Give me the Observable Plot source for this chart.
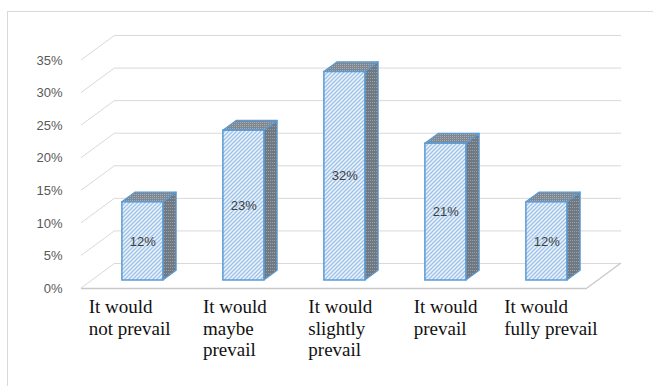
<!DOCTYPE html>
<html>
<head>
<meta charset="utf-8">
<script src="https://cdn.jsdelivr.net/npm/d3@7"></script>
<script src="https://cdn.jsdelivr.net/npm/@observablehq/plot@0.6"></script>
<style>
  html, body { margin: 0; padding: 0; background: #fff; }
  #wrap { position: relative; width: 653px; height: 386px; overflow: hidden; }
  #border { position: absolute; left: 7px; top: 11px; width: 700px; height: 420px; border: 1px solid #d9d9d9; box-sizing: border-box; }
  #chart { position: absolute; left: 0; top: 0; }
</style>
</head>
<body>
<div id="wrap"><div id="border"></div><div id="chart"></div></div>
<script>
const categories = ["It would\nnot prevail", "It would\nmaybe\nprevail", "It would\nslightly\nprevail", "It would\nprevail", "It would\nfully prevail"];
const values = [12, 23, 32, 21, 12];
const valueLabels = ["12%", "23%", "32%", "21%", "12%"];
const yTicks = [0, 5, 10, 15, 20, 25, 30, 35];

const table = categories.map((c, i) => ({category: c, value: values[i], label: valueLabels[i]}));

// perspective depth (styling)
const DX = 34, DY = -25, F1 = 0.32, F2 = 0.71;

function bw(scale) {
  return typeof scale.bandwidth === "function" ? scale.bandwidth() : scale.bandwidth;
}

function diagonals(index, scales, values, dims) {
  const g = d3.create("svg:g").attr("stroke", "#d9d9d9").attr("stroke-width", 1).attr("fill", "none");
  const x0 = dims.marginLeft;
  for (const v of yTicks) {
    const y = scales.y(v);
    g.append("line").attr("x1", x0).attr("y1", y).attr("x2", x0 + DX).attr("y2", y + DY);
  }
  return g.node();
}

function floorRight(index, scales, values, dims) {
  const g = d3.create("svg:g").attr("stroke", "#c9c9c9").attr("stroke-width", 1.3).attr("fill", "none");
  const x0 = dims.width - dims.marginRight;
  const y = scales.y(0);
  g.append("line").attr("x1", x0).attr("y1", y).attr("x2", x0 + DX).attr("y2", y + DY);
  return g.node();
}

function bars3d(index, scales, vals, dims) {
  const g = d3.create("svg:g");
  const defs = g.append("defs");
  const pf = defs.append("pattern").attr("id", "frontHatch").attr("patternUnits", "userSpaceOnUse").attr("width", 4).attr("height", 4);
  pf.append("rect").attr("width", 4).attr("height", 4).attr("fill", "#eef4fb");
  pf.append("path").attr("d", "M-1,1L1,-1M0,4L4,0M3,5L5,3").attr("stroke", "#9cc2e8").attr("stroke-width", 1.3);
  const pt = defs.append("pattern").attr("id", "topTex").attr("patternUnits", "userSpaceOnUse").attr("width", 2).attr("height", 2);
  pt.append("rect").attr("width", 2).attr("height", 2).attr("fill", "#7f8791");
  pt.append("rect").attr("width", 1).attr("height", 1).attr("fill", "#a6adb5");
  const ps = defs.append("pattern").attr("id", "sideTex").attr("patternUnits", "userSpaceOnUse").attr("width", 2).attr("height", 3);
  ps.append("rect").attr("width", 2).attr("height", 3).attr("fill", "#707882");
  ps.append("rect").attr("width", 1).attr("height", 1).attr("fill", "#99a0a8");
  const w = bw(scales.x);
  const ox = DX * (F2 - F1), oy = DY * (F2 - F1);
  for (const i of index) {
    const d = table[i];
    const x0 = scales.x(d.category) + DX * F1, x1 = x0 + w;
    const yb = scales.y(0) + DY * F1, yt = scales.y(d.value) + DY * F1;
    g.append("path")
      .attr("d", `M${x1},${yb}L${x1 + ox},${yb + oy}L${x1 + ox},${yt + oy}L${x1},${yt}Z`)
      .attr("fill", "url(#sideTex)").attr("stroke", "#5b9bd5").attr("stroke-width", 1.2).attr("stroke-linejoin", "round");
    g.append("path")
      .attr("d", `M${x0},${yt}L${x0 + ox},${yt + oy}L${x1 + ox},${yt + oy}L${x1},${yt}Z`)
      .attr("fill", "url(#topTex)").attr("stroke", "#5b9bd5").attr("stroke-width", 1.2).attr("stroke-linejoin", "round");
    g.append("rect")
      .attr("x", x0).attr("y", yt).attr("width", w).attr("height", yb - yt)
      .attr("fill", "url(#frontHatch)").attr("stroke", "#5b9bd5").attr("stroke-width", 1.5);
  }
  return g.node();
}

function catLabels(index, scales, vals, dims) {
  const w = bw(scales.x);
  const ctx = document.createElement("canvas").getContext("2d");
  ctx.font = "19px 'Liberation Serif'";
  const left = dims.marginLeft, right = dims.width - dims.marginRight;
  const mid = (left + right) / 2;
  const y0 = scales.y(0);
  const g = d3.create("svg:g")
    .attr("font-family", "'Liberation Serif', 'Times New Roman', serif")
    .attr("font-size", 19).attr("fill", "#111").attr("text-anchor", "start");
  for (const i of index) {
    const lines = table[i].category.split("\n");
    const c = scales.x(table[i].category) + w / 2;
    const cx = mid + 6.8 + (c - mid) * 1.043;
    const lw = d3.max(lines, l => ctx.measureText(l).width);
    const t = g.append("text").attr("text-anchor", "start");
    lines.forEach((l, k) => {
      t.append("tspan").attr("x", cx - lw / 2).attr("y", y0 + 25 + k * 21.5).text(l);
    });
  }
  return g.node();
}

const chart = Plot.plot({
  width: 653,
  height: 386,
  marginLeft: 81,
  marginRight: 66,
  marginTop: 60,
  marginBottom: 98,
  style: {background: "transparent", overflow: "visible"},
  x: {domain: categories, paddingInner: 0.59, paddingOuter: 0.295, axis: null},
  y: {domain: [0, 35], axis: null},
  marks: [
    Plot.ruleY(yTicks, {dx: DX, dy: DY, stroke: "#d9d9d9", strokeWidth: 1}),
    Plot.ruleY(yTicks, {render: diagonals}),
    Plot.ruleY([0], {stroke: "#c9c9c9", strokeWidth: 1.3}),
    Plot.ruleY([0], {render: floorRight}),
    Plot.axisY(yTicks, {
      tickSize: 0, tickPadding: 19, tickFormat: d => d + "%",
      fontSize: 13, fontFamily: "Liberation Sans", color: "#595959", label: null
    }),
    Plot.barY(table, {x: "category", y: "value", render: bars3d}),
    Plot.text(table, {
      x: "category", y: d => d.value / 2, text: "label",
      dx: DX * F1, dy: DY * F1, fontSize: 13, fontFamily: "Liberation Sans", fill: "#404040"
    }),
    Plot.text(table, {x: "category", frameAnchor: "bottom", text: "category", render: catLabels})
  ]
});
document.getElementById("chart").appendChild(chart);
</script>
</body>
</html>
